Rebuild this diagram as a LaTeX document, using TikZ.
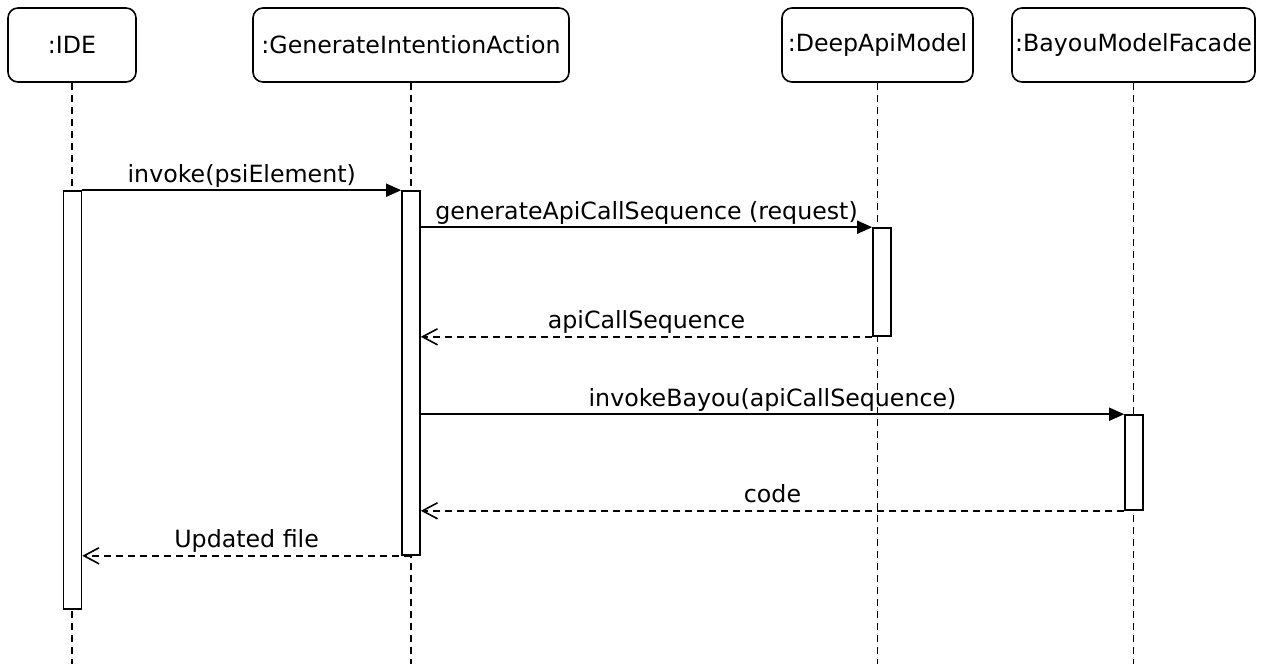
\documentclass[tikz,border=0pt]{standalone}
\usepackage{fontspec}
\setmainfont{DejaVu Sans}
\usetikzlibrary{arrows.meta,positioning}
\begin{document}
\begin{tikzpicture}[x=1pt,y=-1pt,line width=1.6pt,
    obj/.style={draw,rounded corners=10pt,minimum height=74pt,inner sep=0pt,font=\fontsize{23.7}{28}\selectfont},
    actbar/.style={draw,fill=white,minimum width=18pt,inner sep=0pt},
    life/.style={dash pattern=on 7pt off 5pt},
    call/.style={-{Triangle[length=15pt,width=13pt]}},
    reply/.style={dash pattern=on 7pt off 5pt,-{Straight Barb[length=15pt,width=16pt]}},
    msg/.style={anchor=base,yshift=8pt,inner sep=0pt,font=\fontsize{23.7}{28}\selectfont}]
\useasboundingbox (0,0) rectangle (1270,664);

\node[obj,minimum width=128pt] (ide) at (72,45) {:IDE};
\node[obj,minimum width=316pt] (gia) at (411,45) {:GenerateIntentionAction};
\node[obj,minimum width=191pt] (dam) at (877.5,45) {:DeepApiModel};
\node[obj,minimum width=243pt] (bmf) at (1133.5,45) {:BayouModelFacade};

\foreach \o in {ide,gia,dam,bmf}{
    \coordinate (\o-end) at (\o.south |- 0,664);
    \draw[life] (\o.south) -- (\o-end);
}

\node[actbar,minimum height=418pt] (ideact) at (72.5,400) {};
\node[actbar,minimum height=364pt] (giaact) at (411,373) {};
\node[actbar,minimum height=108pt] (damact) at (882,282) {};
\node[actbar,minimum height=95pt] (bmfact) at (1134,462.5) {};

\draw[call] (ideact.north east) -- node[msg]{invoke(psiElement)} (giaact.north west);
\draw[call] (giaact.east |- damact.north) -- node[msg]{generateApiCallSequence (request)} (damact.north west);
\draw[reply] (damact.south west) -- node[msg]{apiCallSequence} (giaact.east |- damact.south);
\draw[call] (giaact.east |- bmfact.north) -- node[msg]{invokeBayou(apiCallSequence)} (bmfact.north west);
\draw[reply] (bmfact.south west) -- node[msg]{code} (giaact.east |- bmfact.south);
\draw[reply] (giaact.south) -- node[msg]{Updated file} (ideact.east |- giaact.south);
\end{tikzpicture}
\end{document}
